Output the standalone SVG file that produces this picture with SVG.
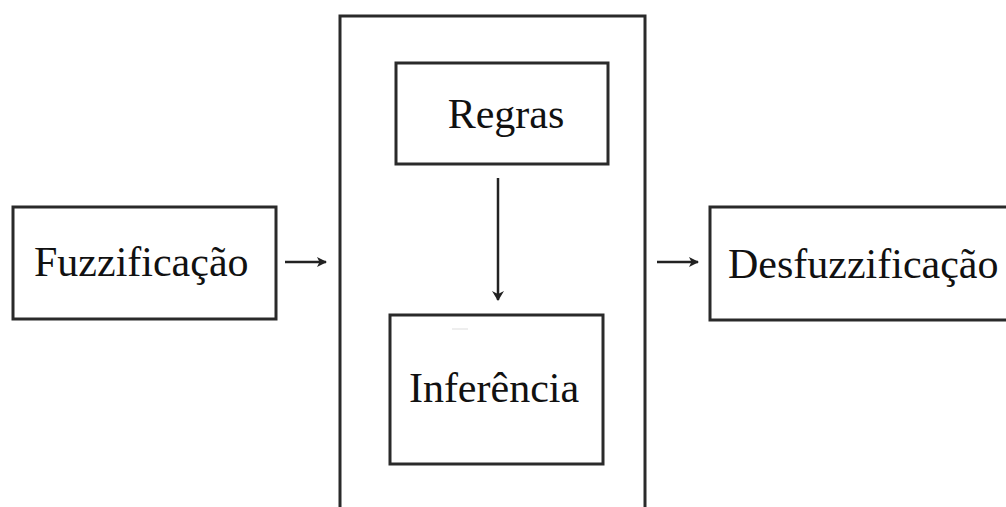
<svg xmlns="http://www.w3.org/2000/svg" width="1006" height="507" viewBox="0 0 1006 507">
<style>
.box{fill:#fff;stroke:#2a2a2a;stroke-width:3}
.lbl{font-family:"Liberation Serif","Times New Roman",serif;font-size:42px;fill:#111}
.con{stroke:#222;stroke-width:2.5;fill:none}
</style>
<defs>
<marker id="ah" markerWidth="10" markerHeight="10" refX="9" refY="5" orient="auto" markerUnits="userSpaceOnUse">
<path d="M0,0 L10,5 L0,10 L2.5,5 Z" fill="#222"/>
</marker>
<marker id="ahv" markerWidth="10" markerHeight="12" refX="9" refY="6" orient="auto" markerUnits="userSpaceOnUse">
<path d="M0,0 L10,6 L0,12 L3,6 Z" fill="#222"/>
</marker>
</defs>
<rect width="1006" height="507" fill="#fff"/>
<g id="sistema">
<rect class="box" x="340" y="16" width="305" height="500"/>
</g>
<g id="fuzzificacao">
<rect class="box" x="13" y="207" width="263" height="112"/>
<text class="lbl" x="34" y="276">Fuzzificação</text>
</g>
<g id="regras">
<rect class="box" x="396" y="63" width="212" height="101"/>
<text class="lbl" x="506" y="128" text-anchor="middle">Regras</text>
</g>
<g id="inferencia">
<rect class="box" x="390" y="315" width="213" height="149"/>
<line x1="452" y1="329" x2="468" y2="329" stroke="#ddd" stroke-width="1"/>
<text class="lbl" x="494" y="402" text-anchor="middle">Inferência</text>
</g>
<g id="desfuzzificacao">
<rect class="box" x="710" y="207" width="300" height="113"/>
<text class="lbl" x="728" y="278">Desfuzzificação</text>
</g>
<g id="connectors">
<line class="con" x1="285" y1="262" x2="326" y2="262" marker-end="url(#ah)"/>
<line class="con" x1="498" y1="178" x2="498" y2="300" marker-end="url(#ahv)"/>
<line class="con" x1="657" y1="262" x2="698" y2="262" marker-end="url(#ah)"/>
</g>
</svg>
